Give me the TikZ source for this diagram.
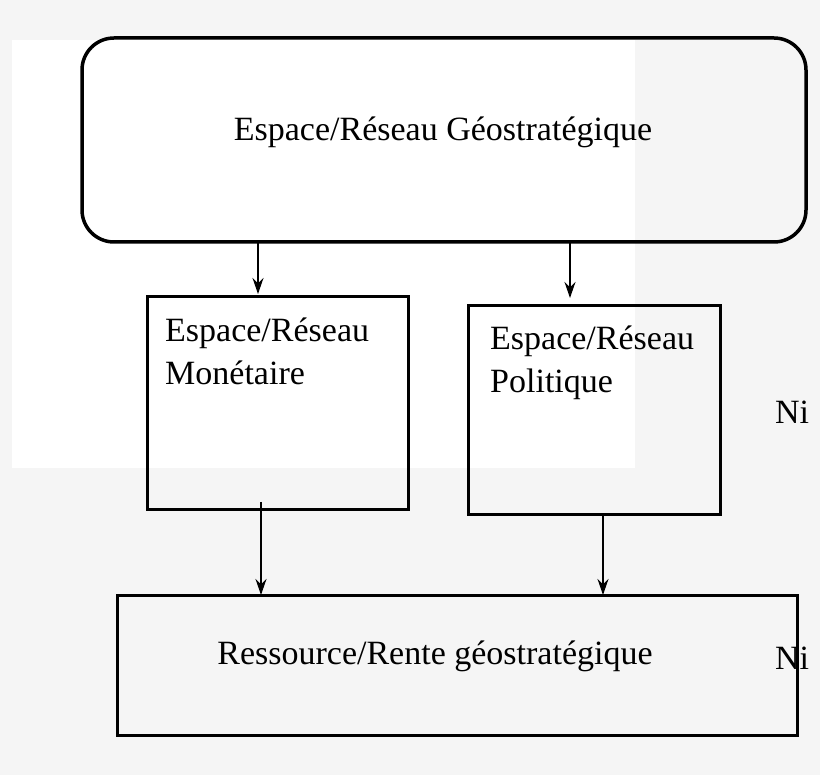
\documentclass[tikz,border=0pt]{standalone}
\usepackage{fontspec}
\setmainfont{Liberation Serif}
\usetikzlibrary{arrows.meta}
\begin{document}
\begin{tikzpicture}[x=1pt,y=-1pt,
  box/.style={draw,line width=3pt},
  lbl/.style={font=\fontsize{34}{43}\selectfont},
  arr/.style={-{Stealth[length=16pt,width=11pt]},line width=1.4pt}]
\fill[black!4] (0,0) rectangle (820,775);
\useasboundingbox (0,0) rectangle (820,775);
\fill[white] (12,40) rectangle (635,468);
\draw[box,line width=3.5pt,rounded corners=32pt] (82,38) rectangle (806,242);
\node[lbl] (top) at (443,132) {Espace/Réseau Géostratégique};
\draw[box] (147,297) rectangle (408,510);
\node[lbl,anchor=north west,align=left,inner sep=0pt] (mon) at (165,318) {Espace/Réseau\\Monétaire};
\draw[box] (468,306) rectangle (720,515);
\node[lbl,anchor=north west,align=left,inner sep=0pt] (pol) at (490,326) {Espace/Réseau\\Politique};
\draw[box] (117,595) rectangle (797,735);
\node[lbl] (bot) at (435,656) {Ressource/Rente géostratégique};
\node[lbl] (n1) at (792,412) {Ni};
\node[lbl] (n2) at (792,658) {Ni};
\coordinate (a1) at (258,242); \coordinate (b1) at (258,294);
\coordinate (a2) at (570,242); \coordinate (b2) at (570,298);
\coordinate (a3) at (261,502); \coordinate (b3) at (261,595);
\coordinate (a4) at (603,515); \coordinate (b4) at (603,595);
\draw[arr] (a1) -- (b1);
\draw[arr] (a2) -- (b2);
\draw[arr] (a3) -- (b3);
\draw[arr] (a4) -- (b4);
\end{tikzpicture}
\end{document}
